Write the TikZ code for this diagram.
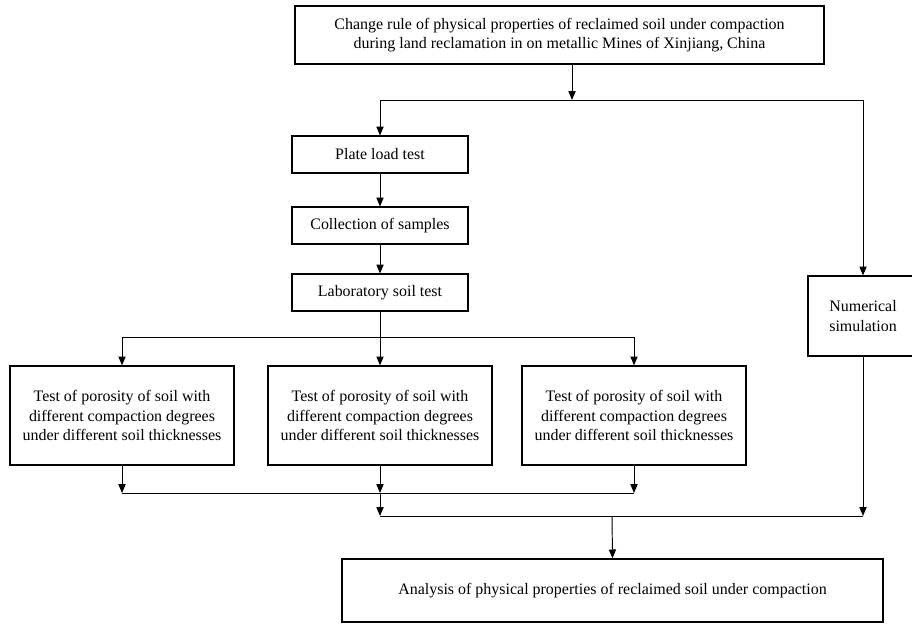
\documentclass[tikz,border=0pt]{standalone}
\usepackage{fontspec}
\setmainfont{Liberation Serif}
\usetikzlibrary{arrows.meta}
\tikzset{>={Triangle[length=5.5pt,width=4.5pt]}}
\begin{document}
\begin{tikzpicture}[x=0.022cm,y=-0.022cm,line width=0.6pt,
  box/.style={draw,line width=0.8pt,align=center,inner sep=2pt},
  stepbox/.style={box,minimum width=3.87cm,minimum height=0.81cm},
  testbox/.style={box,minimum width=4.93cm,minimum height=2.18cm}]
\useasboundingbox (0,0) rectangle (912,624);

\node[box,minimum width=11.64cm,minimum height=1.28cm] (top) at (559.5,35)
  {Change rule of physical properties of reclaimed soil under compaction\\
   during land reclamation in on metallic Mines of Xinjiang, China};
\node[stepbox] (plate) at (380,154.5) {Plate load test};
\node[stepbox] (coll) at (380,225.5) {Collection of samples};
\node[stepbox] (lab) at (380,292.5) {Laboratory soil test};
\node[box,minimum width=2.42cm,minimum height=1.76cm] (num) at (863,316)
  {Numerical\\simulation};
\node[testbox] (t1) at (122,415.5) {Test of porosity of soil with\\different compaction degrees\\under different soil thicknesses};
\node[testbox] (t2) at (380,415.5) {Test of porosity of soil with\\different compaction degrees\\under different soil thicknesses};
\node[testbox] (t3) at (634,415.5) {Test of porosity of soil with\\different compaction degrees\\under different soil thicknesses};
\node[box,minimum width=11.9cm,minimum height=1.39cm] (result) at (612.5,590.5)
  {Analysis of physical properties of reclaimed soil under compaction};

\coordinate (split) at (572,100);
\coordinate (fork) at (380,337);
\coordinate (merge) at (380,493);
\coordinate (join) at (612,516);

\draw[->] (top.south -| split) -- (split);
\draw (split -| plate.north) -- (split -| num.north);
\draw[->] (split -| plate.north) -- (plate.north);
\draw[->] (split -| num.north) -- (num.north);
\draw[->] (plate) -- (coll);
\draw[->] (coll) -- (lab);
\draw (lab) -- (fork);
\draw (fork -| t1.north) -- (fork -| t3.north);
\foreach \t in {t1,t2,t3}
  \draw[->] (fork -| \t.north) -- (\t.north);
\foreach \t in {t1,t2,t3}
  \draw[->] (\t.south) -- (merge -| \t.south);
\draw (merge -| t1.south) -- (merge -| t3.south);
\draw[->] (merge) -- (merge |- join);
\draw[->] (num.south) -- (join -| num.south);
\draw (merge |- join) -- (join -| num.south);
\draw[->] (join) -- (result.north);
\end{tikzpicture}
\end{document}
